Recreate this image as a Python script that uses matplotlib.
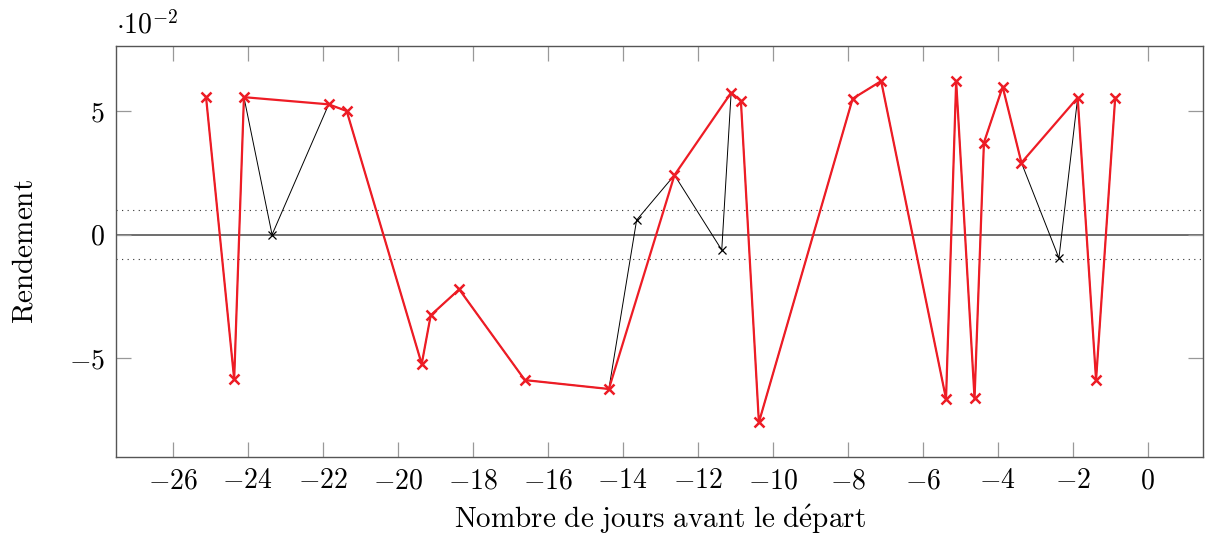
import numpy as np
import matplotlib
matplotlib.use("Agg")
import matplotlib.pyplot as plt

plt.rcParams["mathtext.fontset"] = "cm"
plt.rcParams["font.family"] = "serif"
plt.rcParams["font.serif"] = ["cmr10", "DejaVu Serif"]
plt.rcParams["axes.formatter.use_mathtext"] = True

# Days before departure and return (in units of 1e-2)
jours = [-25.11, -24.36, -24.10, -23.35, -21.84, -21.36, -19.36, -19.12, -18.36,
         -16.61, -14.37, -13.63, -12.62, -11.36, -11.11, -10.85, -10.37, -7.87,
         -7.11, -5.38, -5.11, -4.62, -4.37, -3.87, -3.37, -2.37, -1.87, -1.38, -0.87]
rendement = [5.56, -5.85, 5.56, 0.00, 5.27, 5.00, -5.23, -3.26, -2.21,
             -5.88, -6.24, 0.59, 2.41, -0.62, 5.74, 5.42, -7.59, 5.50,
             6.21, -6.64, 6.21, -6.62, 3.72, 5.98, 2.91, -0.95, 5.54, -5.88, 5.54]
seuil = 1.0
xticks = list(range(-26, 1, 2))
yticks = [-5, 0, 5]

jours = np.array(jours)
rendement = np.array(rendement)
garde = np.abs(rendement) >= seuil

fig = plt.figure(figsize=(12.05, 5.34), dpi=100)
ax = fig.add_axes([0.0963, 0.1442, 0.9020, 0.7697])

ax.axhline(0, color="#555555", lw=1.2, zorder=1)
ax.axhline(seuil, color="#333333", lw=0.8, ls=(0, (1, 4)), zorder=1)
ax.axhline(-seuil, color="#333333", lw=0.8, ls=(0, (1, 4)), zorder=1)

ax.plot(jours, rendement, color="black", lw=0.7, marker="x", ms=6, mew=0.9, zorder=2)
ax.plot(jours[garde], rendement[garde], color="#ee1c25", lw=1.6, marker="x",
        ms=6.5, mew=1.8, zorder=3)

ax.set_xlim(-27.51, 1.47)
ax.set_ylim(-8.99, 7.63)
ax.set_xticks(xticks)
ax.set_yticks(yticks)
ax.set_xticklabels([f"${t}$" for t in xticks])
ax.set_yticklabels([f"${t}$" for t in yticks])
ax.tick_params(direction="in", length=11, width=0.9, color="#999999",
               top=True, right=True, labelsize=20, pad=8)
for s in ax.spines.values():
    s.set_color("#555555")
    s.set_linewidth(1.0)

ax.set_xlabel(r"$\mathrm{Nombre\ de\ jours\ avant\ le\ d\acute{e}part}$", fontsize=21, labelpad=6)
ax.set_ylabel(r"$\mathrm{Rendement}$", fontsize=21, labelpad=22)
ax.text(0.0, 1.015, r"$\cdot 10^{-2}$", transform=ax.transAxes, fontsize=20,
        ha="left", va="bottom")

fig.savefig("out.png", dpi=100)
